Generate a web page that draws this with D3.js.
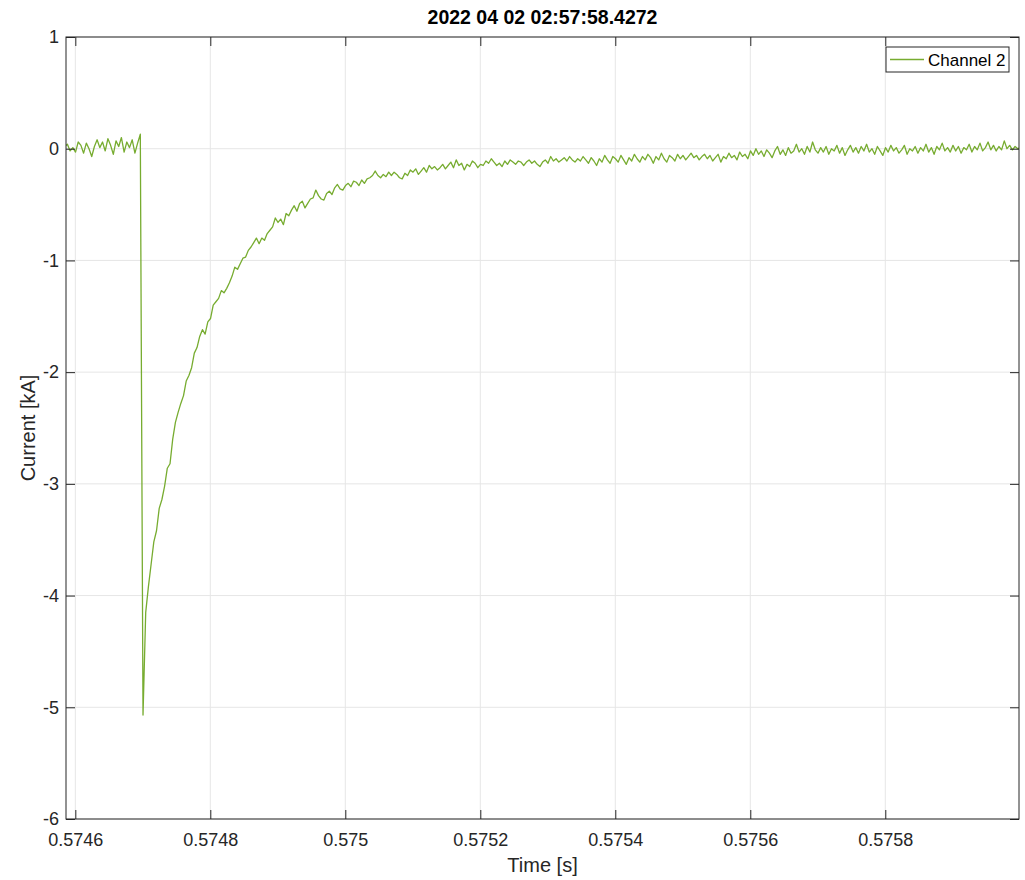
<!DOCTYPE html>
<html><head><meta charset="utf-8">
<script src="https://cdn.jsdelivr.net/npm/d3@7"></script>
<style>body{margin:0;background:#fff;} text{font-family:"Liberation Sans",Arial,Helvetica,sans-serif;}</style>
</head><body>
<svg id="c" width="1025" height="880"></svg>
<script>
const titleText = "2022 04 02 02:57:58.4272";
const seriesName = "Channel 2";
const xLabel = "Time [s]";
const yLabel = "Current [kA]";
const xTicks = [0.5746, 0.5748, 0.5750, 0.5752, 0.5754, 0.5756, 0.5758];
const xTickLabels = ["0.5746", "0.5748", "0.575", "0.5752", "0.5754", "0.5756", "0.5758"];
const yTicks = [-6, -5, -4, -3, -2, -1, 0, 1];
const yTickLabels = ["-6", "-5", "-4", "-3", "-2", "-1", "0", "1"];
const xDomain = [0.5745862, 0.5759981];
const yDomain = [-6, 1];
const tStart = 0.5745843;   // time of first sample [s]
const tStep = 0.000004;     // sample interval [s]
// current samples [kA]
const current = [
 0.02, 0.04, -0.02, 0.01, -0.03, 0.06, 0.03, -0.04, 0.05, 0.00,
 -0.07, 0.02, 0.08, 0.01, 0.06, -0.02, 0.09, 0.03, -0.05, 0.07,
 0.02, 0.10, -0.03, 0.06, 0.01, 0.08, -0.04, 0.05, 0.13,
 -5.07, -4.15, -3.92, -3.72, -3.52, -3.42, -3.22, -3.14, -3.02, -2.86,
 -2.82, -2.60, -2.45, -2.36, -2.28, -2.21, -2.08, -2.03, -1.96, -1.83,
 -1.78, -1.68, -1.62, -1.66, -1.55, -1.52, -1.40, -1.37, -1.34, -1.27,
 -1.29, -1.25, -1.20, -1.14, -1.06, -1.08, -1.03, -0.98, -0.97, -0.91,
 -0.88, -0.84, -0.80, -0.85, -0.80, -0.82, -0.76, -0.73, -0.70, -0.62,
 -0.66, -0.63, -0.68, -0.58, -0.60, -0.55, -0.51, -0.56, -0.49, -0.47,
 -0.53, -0.49, -0.45, -0.44, -0.37, -0.42, -0.45, -0.46, -0.40, -0.38,
 -0.41, -0.35, -0.32, -0.36, -0.37, -0.33, -0.31, -0.34, -0.29, -0.30,
 -0.33, -0.28, -0.31, -0.27, -0.26, -0.24, -0.20, -0.24, -0.26, -0.23,
 -0.25, -0.21, -0.24, -0.21, -0.23, -0.26, -0.27, -0.22, -0.24, -0.19,
 -0.21, -0.18, -0.23, -0.20, -0.17, -0.21, -0.15, -0.18, -0.16, -0.19,
 -0.17, -0.14, -0.18, -0.15, -0.12, -0.17, -0.10, -0.15, -0.13, -0.19,
 -0.14, -0.16, -0.11, -0.13, -0.17, -0.14, -0.15, -0.11, -0.13, -0.09,
 -0.12, -0.15, -0.13, -0.16, -0.11, -0.14, -0.10, -0.12, -0.14, -0.11,
 -0.12, -0.15, -0.12, -0.10, -0.13, -0.11, -0.14, -0.16, -0.12, -0.10,
 -0.13, -0.07, -0.11, -0.09, -0.12, -0.10, -0.08, -0.11, -0.07, -0.10,
 -0.12, -0.09, -0.11, -0.07, -0.10, -0.13, -0.08, -0.11, -0.15, -0.09,
 -0.12, -0.06, -0.10, -0.13, -0.07, -0.09, -0.12, -0.06, -0.10, -0.14,
 -0.08, -0.11, -0.05, -0.09, -0.12, -0.07, -0.10, -0.05, -0.08, -0.13,
 -0.07, -0.10, -0.04, -0.09, -0.12, -0.06, -0.08, -0.11, -0.05, -0.09,
 -0.06, -0.10, -0.07, -0.04, -0.08, -0.06, -0.10, -0.07, -0.05, -0.09,
 -0.06, -0.11, -0.08, -0.05, -0.12, -0.07, -0.09, -0.04, -0.08, -0.06,
 -0.10, -0.03, -0.07, -0.05, -0.09, -0.02, -0.06, 0.00, -0.05, -0.02,
 -0.07, -0.01, -0.04, -0.08, -0.02, 0.02, -0.05, -0.01, -0.06, 0.01,
 -0.04, -0.02, 0.04, -0.03, 0.00, -0.05, 0.02, -0.03, 0.06, -0.01,
 -0.04, 0.01, -0.03, 0.02, -0.05, 0.00, -0.02, 0.03, -0.04, 0.01,
 -0.06, -0.01, 0.03, -0.03, 0.01, -0.04, 0.02, -0.02, 0.04, -0.03,
 0.00, -0.05, 0.02, -0.02, -0.06, 0.01, -0.03, 0.03, -0.02, 0.01,
 -0.04, -0.01, 0.03, -0.05, 0.00, -0.02, 0.02, -0.04, 0.01, -0.02,
 0.04, -0.03, 0.01, -0.05, 0.02, -0.01, 0.05, -0.02, 0.01, -0.03,
 0.03, -0.02, 0.02, -0.04, 0.01, -0.01, 0.04, -0.03, 0.02, -0.01,
 0.05, -0.02, 0.01, 0.06, -0.01, 0.03, -0.02, 0.02, -0.01, 0.07,
 0.00, 0.03, -0.01, 0.02, 0.00, 0.01
];

const svg = d3.select("#c");
const L = 66, T = 37, R = 1019, B = 819;
const x = d3.scaleLinear().domain(xDomain).range([L, R]);
const y = d3.scaleLinear().domain(yDomain).range([B, T]);
const axisColor = "#262626";

// grid
const g = svg.append("g");
g.selectAll(".gx").data(xTicks).enter().append("line")
  .attr("x1", d => x(d)).attr("x2", d => x(d)).attr("y1", T).attr("y2", B)
  .attr("stroke", "#e6e6e6").attr("stroke-width", 1);
g.selectAll(".gy").data(yTicks).enter().append("line")
  .attr("x1", L).attr("x2", R).attr("y1", d => y(d)).attr("y2", d => y(d))
  .attr("stroke", "#e6e6e6").attr("stroke-width", 1);

// data line
svg.append("defs").append("clipPath").attr("id", "clip")
  .append("rect").attr("x", L).attr("y", T).attr("width", R - L).attr("height", B - T);
const data = current.map((v, i) => ({t: tStart + i * tStep, v}));
svg.append("path").datum(data)
  .attr("clip-path", "url(#clip)")
  .attr("fill", "none").attr("stroke", "#77AC30").attr("stroke-width", 1.3)
  .attr("stroke-linejoin", "round")
  .attr("d", d3.line().x(d => x(d.t)).y(d => y(d.v)));

// axes (ticks inward, MATLAB style)
const tl = 9;
const xb = svg.append("g").attr("transform", `translate(0,${B})`)
  .call(d3.axisBottom(x).tickValues(xTicks).tickFormat((d, i) => xTickLabels[i]).tickSize(-tl).tickPadding(14));
const xt = svg.append("g").attr("transform", `translate(0,${T})`)
  .call(d3.axisTop(x).tickValues(xTicks).tickFormat("").tickSize(-tl));
const yl = svg.append("g").attr("transform", `translate(${L},0)`)
  .call(d3.axisLeft(y).tickValues(yTicks).tickFormat((d, i) => yTickLabels[i]).tickSize(-tl).tickPadding(7));
const yr = svg.append("g").attr("transform", `translate(${R},0)`)
  .call(d3.axisRight(y).tickValues(yTicks).tickFormat("").tickSize(-tl));
[xb, xt, yl, yr].forEach(a => {
  a.select(".domain").remove();
  a.selectAll(".tick line").attr("stroke", axisColor);
  a.selectAll(".tick text").attr("fill", axisColor).style("font-size", "18px")
    .style("font-family", '"Liberation Sans",Arial,sans-serif');
});
svg.append("rect").attr("x", L).attr("y", T).attr("width", R - L).attr("height", B - T)
  .attr("fill", "none").attr("stroke", axisColor).attr("stroke-width", 1);

// labels
svg.append("text").attr("x", (L + R) / 2).attr("y", 24).attr("text-anchor", "middle")
  .style("font-size", "19.5px").style("font-weight", "bold").attr("fill", "#000").text(titleText);
svg.append("text").attr("x", (L + R) / 2).attr("y", 872).attr("text-anchor", "middle")
  .style("font-size", "20px").attr("fill", axisColor).text(xLabel);
svg.append("text").attr("transform", `translate(35,${(T + B) / 2}) rotate(-90)`).attr("text-anchor", "middle")
  .style("font-size", "20px").attr("fill", axisColor).text(yLabel);

// legend
const lg = svg.append("g");
lg.append("rect").attr("x", 886).attr("y", 47).attr("width", 123).attr("height", 25)
  .attr("fill", "#fff").attr("stroke", axisColor).attr("stroke-width", 1);
lg.append("line").attr("x1", 890).attr("x2", 924).attr("y1", 59.5).attr("y2", 59.5)
  .attr("stroke", "#77AC30").attr("stroke-width", 1.3);
lg.append("text").attr("x", 928).attr("y", 66).style("font-size", "17px").attr("fill", "#000").text(seriesName);
</script>
</body></html>
